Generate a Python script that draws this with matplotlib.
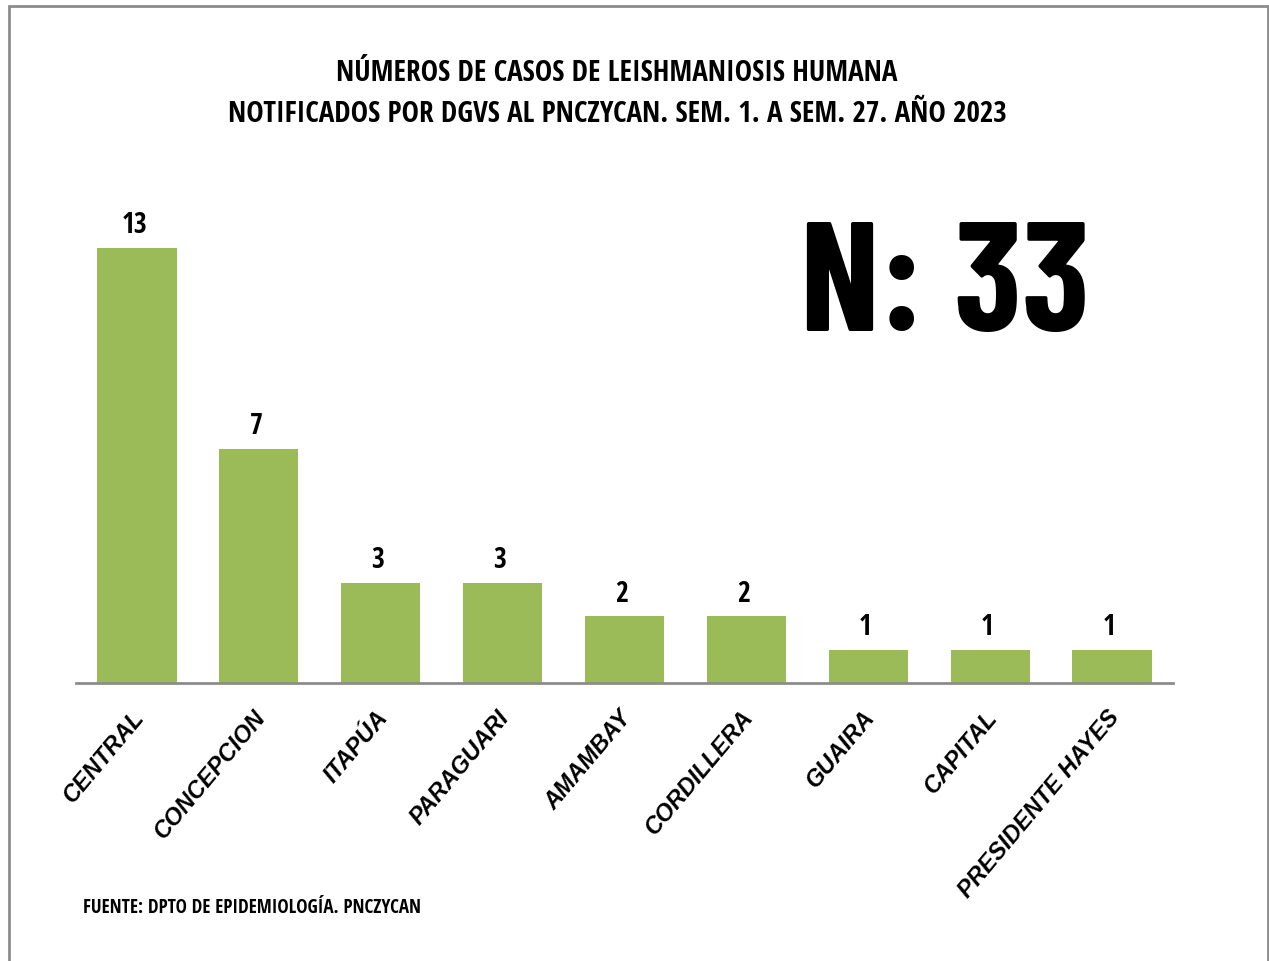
import matplotlib
matplotlib.use('Agg')
import matplotlib.pyplot as plt
import matplotlib.transforms as mtransforms
from matplotlib.patches import Rectangle

# datos
departamentos = ['CENTRAL', 'CONCEPCION', 'ITAPÚA', 'PARAGUARI', 'AMAMBAY',
                 'CORDILLERA', 'GUAIRA', 'CAPITAL', 'PRESIDENTE HAYES']
casos = [13, 7, 3, 3, 2, 2, 1, 1, 1]
total = 33

calibri = ['Open Sans Condensed', 'Carlito', 'DejaVu Sans']
arial = ['Liberation Sans', 'DejaVu Sans']
narrow = ['Barlow Condensed', 'Roboto Condensed', 'DejaVu Sans']
plt.rcParams['font.family'] = calibri

fig = plt.figure(figsize=(12.69, 9.62), dpi=100)
fig.patch.set_facecolor('white')

# marco
fig.add_artist(Rectangle((9 / 1269, -0.01), (1268 - 9) / 1269, 1 - 7 / 962 + 0.01,
                         transform=fig.transFigure, fill=False,
                         edgecolor='#8c8c8c', linewidth=2))

# ejes: x 76..1173, base y 684, 14 unidades de ~33.5 px
ax = fig.add_axes([76 / 1269, 1 - 684 / 962, (1173 - 76) / 1269, 14 * 33.5 / 962])
x = range(len(departamentos))
bars = ax.bar(x, casos, width=0.65, color='#9BBB59')
ax.set_xlim(-0.5, len(departamentos) - 0.5)
ax.set_ylim(0, 14)

for b, v in zip(bars, casos):
    ax.annotate(str(v), (b.get_x() + b.get_width() / 2, v), xytext=(-2, 6),
                textcoords='offset points', ha='center', va='bottom',
                fontsize=20, fontweight='bold')

for s in ['top', 'right', 'left']:
    ax.spines[s].set_visible(False)
ax.spines['bottom'].set_color('#8c8c8c')
ax.spines['bottom'].set_linewidth(2)
ax.set_yticks([])
ax.set_xticks(list(x))
ax.set_xticklabels(departamentos, rotation=50, ha='right', va='top',
                   rotation_mode='anchor', fontsize=17, fontweight='bold',
                   fontstyle='italic', family=arial)
ax.tick_params(axis='x', length=0, pad=16)
shift = mtransforms.ScaledTranslation(-6 / 100, 0, fig.dpi_scale_trans)
for lab in ax.get_xticklabels():
    lab.set_transform(lab.get_transform() + shift)

fig.text(617 / 1269, 1 - 74 / 962, 'NÚMEROS DE CASOS DE LEISHMANIOSIS HUMANA',
         ha='center', va='center', fontsize=21, fontweight='bold')
fig.text(617 / 1269, 1 - 115 / 962,
         'NOTIFICADOS POR DGVS AL PNCZYCAN. SEM. 1. A SEM. 27. AÑO 2023',
         ha='center', va='center', fontsize=21, fontweight='bold')

fig.text(945 / 1269, 1 - 291 / 962, 'N: %d' % total, ha='center', va='center',
         fontsize=112, fontweight='bold', family=narrow)

fig.text(83 / 1269, 1 - 908 / 962, 'FUENTE: DPTO DE EPIDEMIOLOGÍA. PNCZYCAN',
         ha='left', va='center', fontsize=13.7, fontweight='bold')

fig.savefig('out.png', dpi=100)
